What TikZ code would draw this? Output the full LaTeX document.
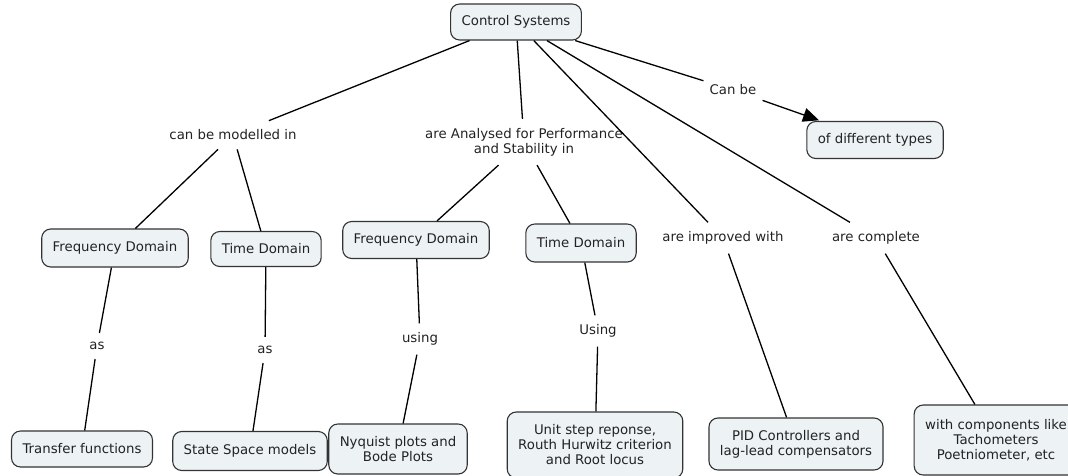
\documentclass[tikz,border=0pt]{standalone}
\usepackage{fontspec}
\setmainfont{DejaVu Sans}
\usetikzlibrary{arrows.meta}
\definecolor{boxfill}{HTML}{EDF2F5}
\definecolor{ink}{HTML}{222222}
\tikzset{
  box/.style={draw=black!80, fill=boxfill, rounded corners=9pt, line width=1.1pt,
    inner xsep=11pt, inner ysep=3pt, align=center, text=ink,
    font=\fontsize{13.3}{15}\selectfont},
  lbl/.style={inner xsep=6pt, inner ysep=9pt, align=center, text=ink,
    font=\fontsize{13.3}{15}\selectfont},
  conn/.style={line width=1.3pt, draw=black},
}
\begin{document}
\begin{tikzpicture}[x=1pt,y=-1pt]
\useasboundingbox (0,0) rectangle (1068,475);
% boxes
\node[box, minimum height=36pt] (cs) at (516,22) {Control Systems};
\node[box, minimum height=37pt] (types) at (875,140) {of different types};
\node[box, minimum height=38pt] (fd1) at (115,248) {Frequency Domain};
\node[box, minimum height=35pt] (td1) at (266,249) {Time Domain};
\node[box, minimum height=37pt] (fd2) at (416,240) {Frequency Domain};
\node[box, minimum height=38pt] (td2) at (581,243) {Time Domain};
\node[box, minimum height=36pt] (tf) at (82,449) {Transfer functions};
\node[box, minimum height=39pt] (ssm) at (250,451) {State Space models};
\node[box, minimum height=50pt] (nyq) at (398,449) {Nyquist plots and\\Bode Plots};
\node[box, minimum height=66pt] (unit) at (595,445) {Unit step reponse,\\Routh Hurwitz criterion\\and Root locus};
\node[box, minimum height=52pt] (pid) at (796,444) {PID Controllers and\\lag-lead compensators};
\node[box, minimum height=70pt] (comp) at (996,440) {with components like\\Tachometers\\Poetniometer, etc};
% labels
\node[lbl] (l1) at (233,135) {can be modelled in};
\node[lbl] (l2) at (524,142) {are Analysed for Performance\\and Stability in};
\node[lbl] (l3) at (733,90) {Can be};
\node[lbl] (l4) at (723,238) {are improved with};
\node[lbl] (l5) at (876,238) {are complete};
\node[lbl] (as1) at (97,346) {as};
\node[lbl] (as2) at (265,350) {as};
\node[lbl] (us1) at (420,339) {using};
\node[lbl] (us2) at (598,331) {Using};
% connectors
\draw[conn] (cs) -- (l1);
\draw[conn] (l1) -- (fd1);
\draw[conn] (l1) -- (td1);
\draw[conn] (cs) -- (l2);
\draw[conn] (l2) -- (fd2);
\draw[conn] (l2) -- (td2);
\draw[conn] (cs) -- (l3);
\draw[conn, shorten >=2pt, -{Triangle[length=16pt,width=14pt]}] (l3) -- (types);
\draw[conn] (cs) -- (l4);
\draw[conn] (l4) -- (pid);
\draw[conn] (cs) -- (l5);
\draw[conn] (l5) -- (comp);
\draw[conn] (fd1) -- (as1);
\draw[conn] (as1) -- (tf);
\draw[conn] (td1) -- (as2);
\draw[conn] (as2) -- (ssm);
\draw[conn] (fd2) -- (us1);
\draw[conn] (us1) -- (nyq);
\draw[conn] (td2) -- (us2);
\draw[conn] (us2) -- (unit);
\end{tikzpicture}
\end{document}
